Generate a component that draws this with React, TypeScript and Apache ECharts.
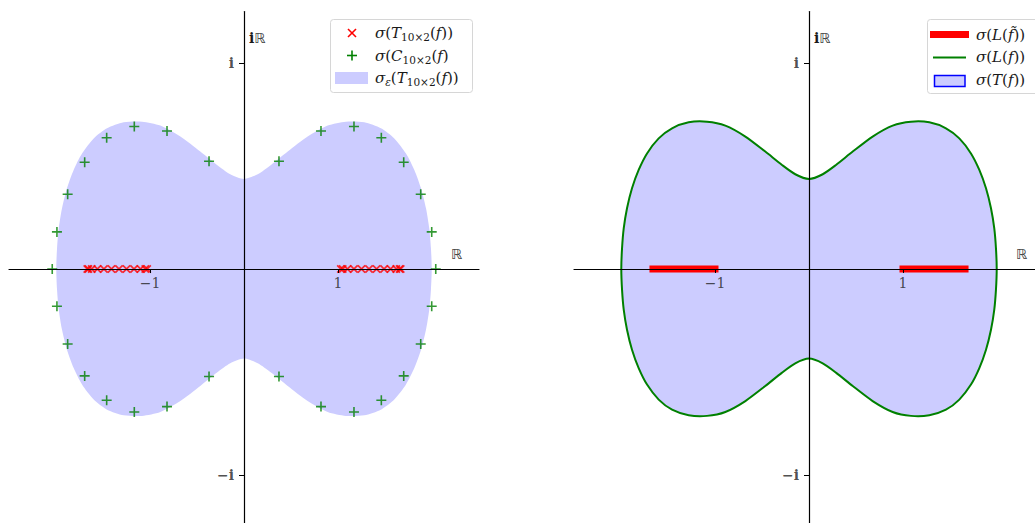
import React, { useEffect, useRef } from "react";
import * as echarts from "echarts";

// ---------- data ----------
const X_RANGE = [-2.5, 2.5];
const Y_RANGE = [-1.25, 1.25];
const X_TICKS = [-1, 1];
const X_TICK_LABELS = ["−1", "1"];
const Y_TICKS = [-1, 1];
const Y_TICK_LABELS = ["−i", "i"];

// boundary of the pseudospectrum / symbol curve (upper half, left -> right)
const BOUNDARY_UPPER: number[][] = [
  [-1.997, 0], [-1.989, 0.1], [-1.971, 0.197], [-1.936, 0.295], [-1.883, 0.392],
  [-1.812, 0.481], [-1.723, 0.561], [-1.599, 0.634], [-1.457, 0.683],
  [-1.28, 0.712], [-1.085, 0.715], [-0.89, 0.696], [-0.677, 0.643],
  [-0.465, 0.57], [-0.287, 0.505], [-0.146, 0.46], [0, 0.437],
  [0.146, 0.46], [0.287, 0.505], [0.465, 0.57], [0.677, 0.643],
  [0.89, 0.696], [1.085, 0.715], [1.28, 0.712], [1.457, 0.683],
  [1.599, 0.634], [1.723, 0.561], [1.812, 0.481], [1.883, 0.392],
  [1.936, 0.295], [1.971, 0.197], [1.989, 0.1], [1.997, 0],
];
// lower half, right -> left
const BOUNDARY_LOWER: number[][] = [
  [1.989, -0.1], [1.971, -0.197], [1.936, -0.295], [1.883, -0.392],
  [1.812, -0.481], [1.723, -0.561], [1.599, -0.634], [1.457, -0.683],
  [1.28, -0.71], [1.085, -0.713], [0.89, -0.694], [0.677, -0.641],
  [0.465, -0.568], [0.287, -0.503], [0.146, -0.458], [0, -0.435],
  [-0.146, -0.458], [-0.287, -0.503], [-0.465, -0.568], [-0.677, -0.641],
  [-0.89, -0.694], [-1.085, -0.713], [-1.28, -0.71], [-1.457, -0.683],
  [-1.599, -0.634], [-1.723, -0.561], [-1.812, -0.481], [-1.883, -0.392],
  [-1.936, -0.295], [-1.971, -0.197], [-1.989, -0.1],
];

// eigenvalues of T_{10x2}(f) (real)
const T_EIGS: number[] = [
  -1.667, -1.655, -1.62, -1.56, -1.49, -1.41, -1.33, -1.25, -1.17, -1.1, -1.05, -1.03,
  1.03, 1.05, 1.1, 1.17, 1.25, 1.33, 1.41, 1.49, 1.56, 1.62, 1.655, 1.667,
];

// eigenvalues of C_{10x2}(f) [re, im]
const C_EIGS: number[][] = [
  [-2.04, 0], [-1.99, 0.18], [-1.876, 0.363], [-1.695, 0.518], [-1.461, 0.637],
  [-1.167, 0.692], [-0.819, 0.67], [-0.372, 0.523], [0.372, 0.523], [0.819, 0.67],
  [1.17, 0.692], [1.461, 0.637], [1.699, 0.518], [1.88, 0.363], [1.997, 0.18], [2.04, 0],
  [-1.99, -0.181], [-1.876, -0.364], [-1.695, -0.519], [-1.461, -0.637],
  [-1.167, -0.694], [-0.819, -0.668], [-0.372, -0.522], [0.372, -0.522],
  [0.819, -0.668], [1.17, -0.694], [1.461, -0.637], [1.699, -0.519],
  [1.88, -0.364], [1.997, -0.181],
];

// range of L(f~)
const L_FTILDE_SEGMENTS: number[][] = [
  [-1.66, -1],
  [1, 1.66],
];

// ---------- styling ----------
const FONT = "DejaVu Serif";
const FILL = "#ccccff";
const GREEN = "#008000";
const RED = "#ff0000";

const PLUS_PATH = "path://M4.2,0H5.8V10H4.2Z M0,4.2H10V5.8H0Z";
const X_PATH =
  "path://M0,1.4L1.4,0L5,3.6L8.6,0L10,1.4L6.4,5L10,8.6L8.6,10L5,6.4L1.4,10L0,8.6L3.6,5Z";

const TXT = "#1a1a1a";
const rich = {
  i: { fontFamily: FONT, fontStyle: "italic", fontSize: 15, lineHeight: 18, verticalAlign: "middle", fill: TXT },
  r: { fontFamily: FONT, fontSize: 15, lineHeight: 18, verticalAlign: "middle", fill: TXT },
  s: { fontFamily: FONT, fontSize: 10.5, lineHeight: 10, verticalAlign: "bottom", fill: TXT },
  se: { fontFamily: FONT, fontStyle: "italic", fontSize: 10.5, lineHeight: 10, verticalAlign: "bottom", fill: TXT },
  b: { fontFamily: FONT, fontWeight: "bold", fontSize: 14, lineHeight: 18, verticalAlign: "middle", fill: TXT },
  bb: { fontFamily: "DejaVu Sans", fontSize: 14, lineHeight: 18, verticalAlign: "middle", fill: "#444" },
};

function makeAxes(gridIndex: number) {
  const common = {
    type: "value",
    gridIndex,
    z: 10,
    axisLine: { show: true, onZero: true, lineStyle: { color: "#000", width: 1.2 } },
    axisLabel: { show: false },
    splitLine: { show: false },
  };
  const xAxis = {
    ...common,
    min: X_RANGE[0],
    max: X_RANGE[1],
    axisTick: { show: true, customValues: X_TICKS, length: 4, lineStyle: { color: "#000", width: 1 } },
  };
  const yAxis = {
    ...common,
    min: Y_RANGE[0],
    max: Y_RANGE[1],
    axisTick: { show: true, customValues: Y_TICKS, length: 5, lineStyle: { color: "#000", width: 1 } },
  };
  return { xAxis, yAxis };
}

function tickLabelSeries(axisIndex: number) {
  return [
    {
      type: "scatter",
      xAxisIndex: axisIndex,
      yAxisIndex: axisIndex,
      symbolSize: 0,
      silent: true,
      z: 12,
      label: { show: true, position: "bottom", distance: 7, fontFamily: FONT, fontSize: 14, color: "#222" },
      data: X_TICKS.map((v, i) => ({ value: [v, 0], label: { formatter: X_TICK_LABELS[i] } })),
    },
    {
      type: "scatter",
      xAxisIndex: axisIndex,
      yAxisIndex: axisIndex,
      symbolSize: 0,
      silent: true,
      z: 12,
      label: {
        show: true,
        position: "left",
        distance: 10,
        fontFamily: FONT,
        fontSize: 14,
        fontWeight: "bold",
        color: "#222",
      },
      data: Y_TICKS.map((v, i) => ({ value: [0, v], label: { formatter: Y_TICK_LABELS[i] } })),
    },
  ];
}

function regionSeries(axisIndex: number, stroke: string | null) {
  const pts = BOUNDARY_UPPER.concat(BOUNDARY_LOWER);
  return {
    type: "custom",
    coordinateSystem: "cartesian2d",
    xAxisIndex: axisIndex,
    yAxisIndex: axisIndex,
    z: 1,
    silent: true,
    data: [[0, 0]],
    renderItem: (_params: any, api: any) => ({
      type: "polygon",
      shape: { points: pts.map((p) => api.coord(p)), smooth: 0.25 },
      style: {
        fill: FILL,
        stroke: stroke ?? "none",
        lineWidth: stroke ? 2 : 0,
      },
    }),
  };
}

export default function App() {
  const ref = useRef<HTMLDivElement>(null);

  useEffect(() => {
    if (!ref.current) return;
    const chart = echarts.init(ref.current, null, { renderer: "svg" });

    const a0 = makeAxes(0);
    const a1 = makeAxes(1);

    const option: any = {
      animation: false,
      backgroundColor: "#fff",
      grid: [
        { left: 9, top: 11.5, width: 470, height: 515, outerBoundsMode: "none", containLabel: false },
        { left: 574, top: 11.5, width: 470, height: 515, outerBoundsMode: "none", containLabel: false },
      ],
      xAxis: [a0.xAxis, a1.xAxis],
      yAxis: [a0.yAxis, a1.yAxis],
      series: [
        regionSeries(0, null),
        {
          type: "scatter",
          xAxisIndex: 0,
          yAxisIndex: 0,
          z: 3,
          symbol: X_PATH,
          symbolSize: 8.5,
          itemStyle: { color: RED },
          data: T_EIGS.map((re) => [re, 0]),
        },
        {
          type: "scatter",
          xAxisIndex: 0,
          yAxisIndex: 0,
          z: 4,
          symbol: PLUS_PATH,
          symbolSize: 10,
          itemStyle: { color: GREEN },
          data: C_EIGS,
        },
        ...tickLabelSeries(0),
        regionSeries(1, GREEN),
        ...L_FTILDE_SEGMENTS.map((seg) => ({
          type: "line",
          xAxisIndex: 1,
          yAxisIndex: 1,
          z: 3,
          symbol: "none",
          lineStyle: { color: RED, width: 7, cap: "square" },
          data: [
            [seg[0], 0],
            [seg[1], 0],
          ],
        })),
        ...tickLabelSeries(1),
      ],
      graphic: [
        // axis annotations
        { type: "text", x: 249, y: 38, style: { text: "{b|i}{bb|ℝ}", rich, verticalAlign: "middle" }, z: 20 },
        { type: "text", x: 451, y: 254, style: { text: "{bb|ℝ}", rich, verticalAlign: "middle" }, z: 20 },
        { type: "text", x: 814, y: 38, style: { text: "{b|i}{bb|ℝ}", rich, verticalAlign: "middle" }, z: 20 },
        { type: "text", x: 1016, y: 254, style: { text: "{bb|ℝ}", rich, verticalAlign: "middle" }, z: 20 },

        // left legend
        {
          type: "rect",
          z: 20,
          shape: { x: 330.5, y: 19.5, width: 142, height: 73, r: 3 },
          style: { fill: "rgba(255,255,255,0.8)", stroke: "#d6d6d6", lineWidth: 1 },
        },
        { type: "line", z: 21, shape: { x1: 348, y1: 29, x2: 356, y2: 37 }, style: { stroke: RED, lineWidth: 1.6 } },
        { type: "line", z: 21, shape: { x1: 348, y1: 37, x2: 356, y2: 29 }, style: { stroke: RED, lineWidth: 1.6 } },
        { type: "line", z: 21, shape: { x1: 347, y1: 55.5, x2: 357, y2: 55.5 }, style: { stroke: GREEN, lineWidth: 1.6 } },
        { type: "line", z: 21, shape: { x1: 352, y1: 50.5, x2: 352, y2: 60.5 }, style: { stroke: GREEN, lineWidth: 1.6 } },
        { type: "rect", z: 21, shape: { x: 335, y: 72, width: 33, height: 12 }, style: { fill: FILL } },
        {
          type: "text", z: 21, x: 375, y: 33,
          style: { text: "{i|σ}{r|(}{i|T}{s|10×2}{r|(}{i|f}{r|))}", rich, verticalAlign: "middle" },
        },
        {
          type: "text", z: 21, x: 375, y: 56,
          style: { text: "{i|σ}{r|(}{i|C}{s|10×2}{r|(}{i|f}{r|)}", rich, verticalAlign: "middle" },
        },
        {
          type: "text", z: 21, x: 375, y: 78,
          style: { text: "{i|σ}{se|ε}{r|(}{i|T}{s|10×2}{r|(}{i|f}{r|))}", rich, verticalAlign: "middle" },
        },

        // right legend
        {
          type: "rect",
          z: 20,
          shape: { x: 927.5, y: 19.5, width: 125, height: 74, r: 3 },
          style: { fill: "rgba(255,255,255,0.8)", stroke: "#d6d6d6", lineWidth: 1 },
        },
        { type: "line", z: 21, shape: { x1: 933.5, y1: 34.5, x2: 965.5, y2: 34.5 }, style: { stroke: RED, lineWidth: 7, lineCap: "square" } },
        { type: "line", z: 21, shape: { x1: 933, y1: 57.5, x2: 966, y2: 57.5 }, style: { stroke: GREEN, lineWidth: 2 } },
        { type: "rect", z: 21, shape: { x: 934.5, y: 75.5, width: 30.5, height: 11 }, style: { fill: FILL, stroke: "#0000ff", lineWidth: 1.5 } },
        {
          type: "text", z: 21, x: 976, y: 35,
          style: { text: "{i|σ}{r|(}{i|L}{r|(}{i|f̃}{r|))}", rich, verticalAlign: "middle" },
        },
        {
          type: "text", z: 21, x: 976, y: 57,
          style: { text: "{i|σ}{r|(}{i|L}{r|(}{i|f}{r|))}", rich, verticalAlign: "middle" },
        },
        {
          type: "text", z: 21, x: 976, y: 80,
          style: { text: "{i|σ}{r|(}{i|T}{r|(}{i|f}{r|))}", rich, verticalAlign: "middle" },
        },
      ],
    };

    chart.setOption(option);
    return () => chart.dispose();
  }, []);

  return (
    <div
      ref={ref}
      style={{ position: "absolute", left: 0, top: 0, width: 1035, height: 523, background: "#fff" }}
    />
  );
}
